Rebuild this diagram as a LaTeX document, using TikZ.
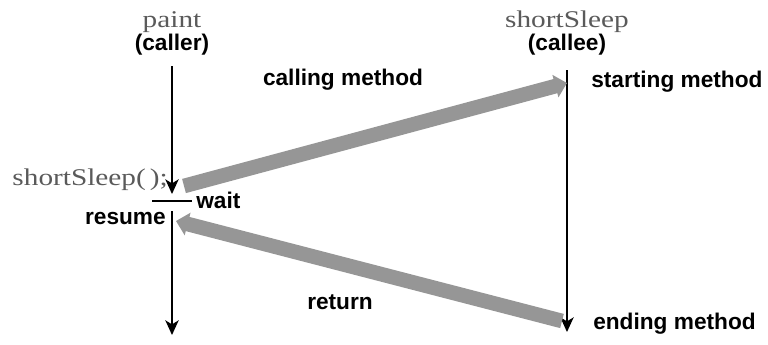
\documentclass[tikz,border=0pt]{standalone}
\usepackage{fontspec}
\setmainfont{Liberation Serif}
\newfontfamily\labelfont{Liberation Sans}
\newfontfamily\codefont[FakeStretch=1.22]{Liberation Serif}
\usetikzlibrary{arrows.meta}
\definecolor{flowgray}{RGB}{150,150,150}
\definecolor{namegray}{RGB}{90,90,90}
\tikzset{
  methodname/.style={font=\codefont\fontsize{18}{20}\selectfont, text=namegray, inner sep=0pt},
  tag/.style={font=\labelfont\bfseries\fontsize{17}{19}\selectfont, inner sep=0pt},
  life/.style={line width=1.1pt, -{Stealth[length=11pt,width=10pt,inset=3pt]}},
  flow/.style={draw=flowgray, line width=11pt, -{Triangle[length=9pt,width=17pt]}}
}
\begin{document}
\begin{tikzpicture}[x=0.75pt, y=-0.75pt]
  \useasboundingbox (0,0) rectangle (768,344);

  % caller side
  \node[methodname] (paint) at (172,22) {paint};
  \node[tag] (caller) at (172,45) {(caller)};
  \coordinate (ctop) at (172,66);
  \coordinate (cwait) at (172,194);
  \coordinate (cres) at (172,211);
  \coordinate (cend) at (172,335);
  \coordinate (wleft) at (152,201);
  \coordinate (wright) at (192,201);
  \draw[life] (ctop) -- (cwait);
  \draw[line width=1.1pt] (wleft) -- (wright);
  \draw[life] (cres) -- (cend);
  \node[methodname, anchor=east] (call) at (168,180) {shortSleep(\,);};
  \node[tag, anchor=west] (wait) at (196,200) {wait};
  \node[tag, anchor=east] (resume) at (166,218) {resume};

  % callee side
  \node[methodname] (sleep) at (567,22) {shortSleep};
  \node[tag] (callee) at (567,45) {(callee)};
  \coordinate (etop) at (567,70);
  \coordinate (eend) at (567,332);
  \draw[life] (etop) -- (eend);
  \node[tag, anchor=west] (start) at (591,82) {starting method};
  \node[tag, anchor=west] (finish) at (593,324) {ending method};

  % calling and returning
  \coordinate (sendfrom) at (184,186);
  \coordinate (sendto) at (567,83);
  \coordinate (backfrom) at (562,321);
  \coordinate (backto) at (176,221);
  \draw[flow] (sendfrom) -- (sendto);
  \draw[flow] (backfrom) -- (backto);
  \node[tag] (calling) at (343,80) {calling method};
  \node[tag] (return) at (340,302) {return};
\end{tikzpicture}
\end{document}
